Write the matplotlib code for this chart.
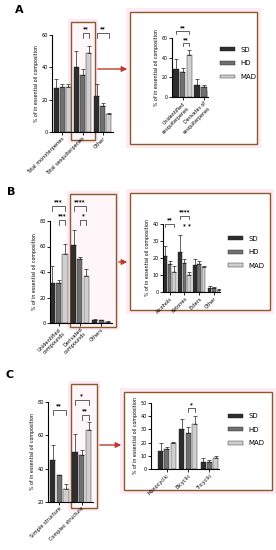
import matplotlib
matplotlib.use('Agg')
import matplotlib.pyplot as plt
import numpy as np
from matplotlib.patches import Rectangle, Patch, FancyArrowPatch

W, H = 276, 550

# colours for the three drying methods
methods = ['SD', 'HD', 'MAD']
cols = ['#2e2e2e', '#707070', '#cfcfcf']

# panel A
a_cats = ['Total monoterpenes', 'Total sesquiterpenes', 'Other']
a_mean = [[27, 40, 22], [28, 35, 16], [28, 49, 11]]
a_err = [[6, 10, 8], [2, 4, 2], [2, 4, 1]]
ai_cats = ['Unidentified\nsesquiterpenes', 'Derivates of\nsesquiterpenes']
ai_mean = [[28, 12], [25, 10], [43, 6]]
ai_err = [[11, 6], [4, 2], [5, 2]]

# panel B
b_cats = ['Unidentified\ncompounds', 'Derivated\ncompounds', 'Others']
b_mean = [[31, 61, 2], [31, 50, 2], [54, 37, 1]]
b_err = [[14, 12, 1], [3, 2, 0.5], [8, 5, 0.3]]
bi_cats = ['Alcohols', 'Ketones', 'Esters', 'Other']
bi_mean = [[21, 23.5, 16, 2.5], [16.5, 17, 16.5, 2.5], [12, 10, 14.5, 1]]
bi_err = [[6, 10, 3.5, 1], [1.5, 2.5, 1.5, 0.5], [3.5, 1.5, 1, 0.5]]

# panel C
c_cats = ['Simple structure', 'Complex structure']
c_mean = [[45, 50], [36, 48], [28, 63]]
c_err = [[9, 11], [0.5, 3], [3, 5]]
ci_cats = ['Monocyclic', 'Bicyclic', 'Tricyclic']
ci_mean = [[14, 30, 5], [15, 27, 5.5], [20, 34, 8]]
ci_err = [[6, 8, 3], [2, 5, 1], [0.5, 6, 2]]

fig = plt.figure(figsize=(W / 100, H / 100), dpi=100)

# background layer in pixel coordinates for boxes and arrows
bg = fig.add_axes([0, 0, 1, 1])
bg.set_xlim(0, W)
bg.set_ylim(H, 0)
bg.axis('off')

brown = '#8b5a2b'
red = '#c0392b'
pink = '#fdeaf2'


def box(x0, y0, x1, y1, g=4, inner='white'):
    # pink halo, then the box itself
    bg.add_patch(Rectangle((x0 - g, y0 - g), x1 - x0 + 2 * g, y1 - y0 + 2 * g,
                           facecolor=pink, edgecolor='none'))
    bg.add_patch(Rectangle((x0, y0), x1 - x0, y1 - y0, facecolor=inner,
                           edgecolor=brown, lw=1.0))


def arrow(x0, x1, y):
    bg.add_patch(FancyArrowPatch((x0, y), (x1, y), arrowstyle='-|>',
                                 mutation_scale=8, color=red, lw=1.0))


def pax(l, r, t, b):
    return fig.add_axes([l / W, 1 - b / H, (r - l) / W, (b - t) / H],
                        facecolor='none')


def bars(ax, cats, mean, err, ylim, yticks, fs=3.6, width=0.24, off=0.3):
    x = np.arange(len(cats))
    for i in range(3):
        ax.bar(x + (i - 1) * off, mean[i], width, color=cols[i],
               edgecolor='#222222', lw=0.3, zorder=2)
        ax.errorbar(x + (i - 1) * off, mean[i], yerr=[np.zeros(len(cats)), err[i]],
                    fmt='none', ecolor='#222222', elinewidth=0.5, capsize=1.2,
                    capthick=0.5, zorder=3)
    ax.set_xticks(x)
    ax.set_xticklabels(cats, rotation=45, ha='right', rotation_mode='anchor',
                       fontsize=fs)
    ax.set_ylim(*ylim)
    ax.set_yticks(yticks)
    ax.tick_params(axis='y', labelsize=fs, length=2, width=0.6, pad=1)
    ax.tick_params(axis='x', length=2, width=0.6, pad=1)
    for s in ['top', 'right']:
        ax.spines[s].set_visible(False)
    for s in ['left', 'bottom']:
        ax.spines[s].set_linewidth(0.8)
    ax.set_ylabel('% of in essential oil composition', fontsize=3.4, labelpad=2)


def bracket(ax, x1, x2, y, h, txt, fs=4):
    ax.plot([x1, x1, x2, x2], [y - h, y, y, y - h], color='#222222', lw=0.5,
            clip_on=False)
    ax.text((x1 + x2) / 2, y + h * 0.4, txt, ha='center', va='bottom',
            fontsize=fs, fontweight='bold', clip_on=False)


def legend(ax, x, y):
    hs = [Patch(facecolor=cols[i], edgecolor='#222222', lw=0.3) for i in range(3)]
    ax.legend(hs, methods, loc='upper left', bbox_to_anchor=(x, y), frameon=False,
              fontsize=5, handlelength=2.2, handleheight=0.5, labelspacing=1.1,
              handletextpad=0.8, borderaxespad=0)


# ---------- A ----------
fig.text(15 / W, 1 - 10 / H, 'A', fontsize=8, fontweight='bold', va='center')
box(71, 22, 95, 140, g=3, inner='#fff6f9')
box(130, 12, 257, 144)
arrow(95, 130, 69)
ax = pax(52, 113, 35, 132)
bars(ax, a_cats, a_mean, a_err, (0, 60), [0, 20, 40, 60])
ax.set_xlim(-0.5, 2.5)
bracket(ax, 1.0, 1.3, 61, 3, '**')
bracket(ax, 1.7, 2.3, 61, 3, '**')
ax = pax(172, 208, 38, 97)
bars(ax, ai_cats, ai_mean, ai_err, (0, 60), [0, 20, 40, 60], fs=3.4, off=0.32, width=0.26)
ax.set_xlim(-0.5, 1.2)
bracket(ax, -0.32, 0.32, 67, 3, '**')
bracket(ax, 0, 0.32, 55, 3, '**')
legend(ax, 1.25, 0.9)

# ---------- B ----------
fig.text(7 / W, 1 - 192 / H, 'B', fontsize=8, fontweight='bold', va='center')
box(70, 194, 116, 327, g=3, inner='#fff6f9')
box(130, 193, 270, 310)
arrow(116, 130, 262)
ax = pax(50, 112, 221, 323)
bars(ax, b_cats, b_mean, b_err, (0, 80), [0, 20, 40, 60, 80])
ax.set_xlim(-0.4, 2.5)
bracket(ax, -0.3, 0.3, 92, 4, '***')
bracket(ax, 0, 0.3, 81, 4, '***')
bracket(ax, 0.7, 1.3, 92, 4, '****')
bracket(ax, 1.0, 1.3, 81, 4, '*')
ax = pax(163, 220, 224, 292)
bars(ax, bi_cats, bi_mean, bi_err, (0, 40), [0, 10, 20, 30, 40], fs=3.6)
ax.set_xlim(-0.45, 3.4)
bracket(ax, -0.3, 0.3, 40, 2, '**')
bracket(ax, 0.7, 1.3, 45, 2, '****')
ax.text(1.0, 38, '*', ha='center', fontsize=4, fontweight='bold', clip_on=False)
ax.text(1.3, 38, '*', ha='center', fontsize=4, fontweight='bold', clip_on=False)
legend(ax, 1.09, 0.87)

# ---------- C ----------
fig.text(5 / W, 1 - 375 / H, 'C', fontsize=8, fontweight='bold', va='center')
box(71, 384, 97, 508, g=3, inner='#fff6f9')
box(124, 392, 272, 490)
arrow(97, 124, 445)
ax = pax(48, 93, 402, 502)
bars(ax, c_cats, c_mean, c_err, (20, 80), [20, 40, 60, 80])
ax.set_xlim(-0.5, 1.5)
bracket(ax, -0.3, 0.3, 75, 3, '**')
bracket(ax, 0.7, 1.3, 81, 3, '*')
bracket(ax, 1.0, 1.3, 72, 3, '**')
ax = pax(151, 219, 403, 469)
bars(ax, ci_cats, ci_mean, ci_err, (0, 50), [0, 10, 20, 30, 40, 50], fs=3.6)
ax.set_xlim(-0.75, 2.45)
bracket(ax, 1.0, 1.3, 46, 3, '*')
legend(ax, 1.09, 0.89)

fig.savefig('out.png', dpi=100)
